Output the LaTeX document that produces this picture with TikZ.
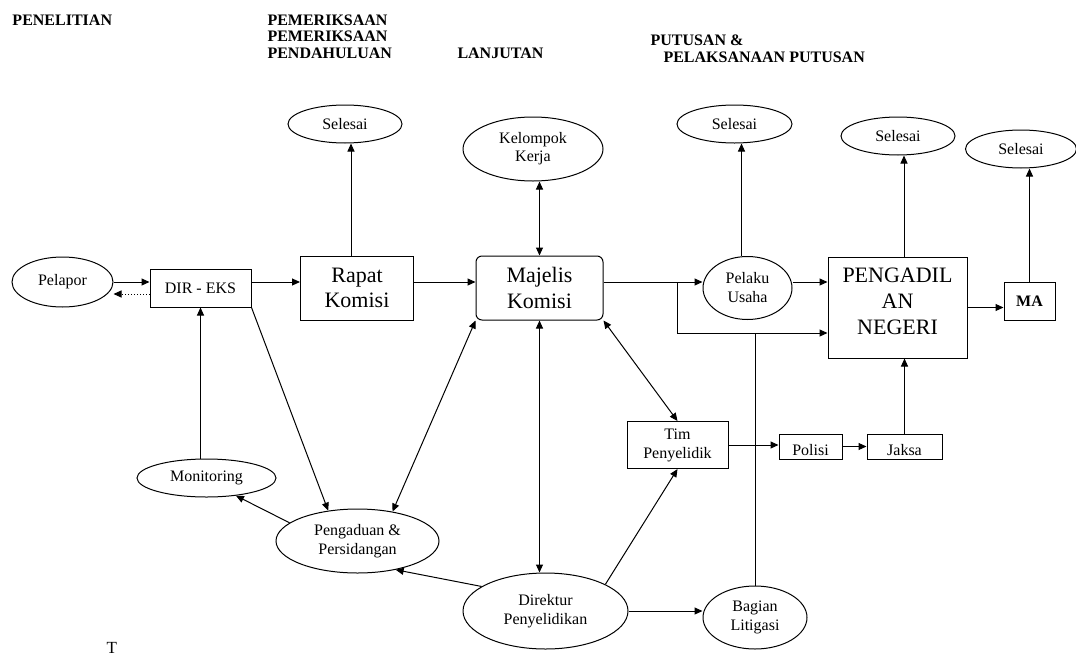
\documentclass[tikz,border=0pt]{standalone}
\usepackage{fontspec}
\setmainfont{Liberation Serif}
\usetikzlibrary{shapes.geometric, arrows.meta}

\begin{document}
\begin{tikzpicture}[x=1pt, y=-1pt, line width=1pt, >={Triangle[length=8pt,width=7pt]},
  judul/.style={font=\fontsize{16}{18}\selectfont\bfseries, anchor=base west, inner sep=0pt},
  oval/.style={draw, ellipse, inner sep=0pt, align=center, font=\fontsize{16}{19}\selectfont},
  kotak/.style={draw, rectangle, inner sep=0pt, align=center, font=\fontsize{16}{19}\selectfont},
  kotakbesar/.style={kotak, font=\fontsize{22}{25.5}\selectfont},
  kotakkecil/.style={kotak, text height=21pt, text depth=4pt}]
  \useasboundingbox (0,0) rectangle (1076,656);
  % Tahapan
  \node[judul] (penelitian) at (12,25) {PENELITIAN};
  \node[judul] (pemeriksaanA) at (267,25) {PEMERIKSAAN};
  \node[judul] (pemeriksaanB) at (267,41.7) {PEMERIKSAAN};
  \node[judul] (pendahuluan) at (267,58.3) {PENDAHULUAN};
  \node[judul] (lanjutan) at (457,58.3) {LANJUTAN};
  \node[judul] (putusan) at (650,45) {PUTUSAN \&};
  \node[judul] (pelaksanaan) at (663,62) {PELAKSANAAN PUTUSAN};
  % Baris tengah
  \node[oval, minimum width=101, minimum height=50] (pelapor) at (62.5,282) {Pelapor};
  \node[kotak, minimum width=101, minimum height=38] (direks) at (200.5,288) {DIR - EKS};
  \node[kotakbesar, minimum width=113, minimum height=64] (rapat) at (357,288) {Rapat\\Komisi};
  \node[kotakbesar, rounded corners=6pt, minimum width=127, minimum height=64] (majelis) at (539.5,288) {Majelis\\Komisi};
  \node[oval, minimum width=89, minimum height=63] (pelaku) at (747.5,288) {Pelaku\\Usaha};
  \node[kotakbesar, font=\fontsize{22}{26}\selectfont, text depth=12pt, minimum width=139, minimum height=101] (pengadilan) at (897.5,307.5) {PENGADIL\\AN\\NEGERI};
  \node[kotak, font=\fontsize{16}{19}\selectfont\bfseries, minimum width=51, minimum height=38] (ma) at (1029.5,301) {MA};
  % Baris atas
  \node[oval, minimum width=114, minimum height=38] (selesaiA) at (345,124) {Selesai};
  \node[oval, minimum width=140, minimum height=64, font=\fontsize{16}{18}\selectfont] (kelompok) at (533,149) {Kelompok\\Kerja};
  \node[oval, minimum width=115, minimum height=38] (selesaiB) at (734.5,124) {Selesai};
  \node[oval, minimum width=114, minimum height=38] (selesaiC) at (898,136) {Selesai};
  \node[oval, minimum width=111, minimum height=38] (selesaiD) at (1021,149) {Selesai};
  % Baris bawah
  \node[kotak, minimum width=101, minimum height=47] (tim) at (677.5,445) {Tim\\Penyelidik};
  \node[kotakkecil, minimum width=63, minimum height=25] (polisi) at (810.5,446.5) {Polisi};
  \node[kotakkecil, minimum width=75, minimum height=25] (jaksa) at (904.5,446.5) {Jaksa};
  \node[oval, minimum width=139, minimum height=38] (monitoring) at (206.5,478) {Monitoring};
  \node[oval, minimum width=163, minimum height=64] (pengaduan) at (357.5,541) {Pengaduan \&\\Persidangan};
  \node[oval, minimum width=165, minimum height=76] (direktur) at (545.5,611) {Direktur\\Penyelidikan};
  \node[oval, minimum width=104, minimum height=63] (bagian) at (755,617.5) {Bagian\\Litigasi};
  \node[anchor=base west, inner sep=0pt, font=\fontsize{17}{20}\selectfont] (huruf) at (106,653) {T};
  \coordinate (cabang) at (677,282);
  \coordinate (belok) at (677,333);
  % Panah
  \draw[->] (pelapor.east) -- (pelapor.east -| direks.west);
  \draw[->, dotted] ([yshift=-6]direks.west) -- ([yshift=-12]pelapor.east);
  \draw[->] ([yshift=6]direks.east) -- ([yshift=6]rapat.west);
  \draw[->] ([xshift=-6]rapat.north) -- ([xshift=-6]rapat.north |- selesaiA.south);
  \draw[->] ([yshift=6]rapat.east) -- ([yshift=6]majelis.west);
  \draw[<->] (majelis.north) -- (majelis.north |- kelompok.south);
  \draw[->] ([yshift=6]majelis.east) -- ([yshift=6]pelaku.west);
  \draw[->] (cabang) |- (belok -| pengadilan.west);
  \draw[->] ([xshift=-6]pelaku.north) -- ([xshift=-6]pelaku.north |- selesaiB.south);
  \draw[->] ([yshift=6]pelaku.east) -- ([yshift=6]pelaku.east -| pengadilan.west);
  \draw[->] ([xshift=6.5]pengadilan.north) -- ([xshift=6.5]pengadilan.north |- selesaiC.south);
  \draw[->] (pengadilan.east) -- (pengadilan.east -| ma.west);
  \draw[->] (ma.north) -- (ma.north |- selesaiD.south);
  \draw (bagian.north) -- (bagian.north |- belok);
  \draw[->] (jaksa.north) -- (jaksa.north |- pengadilan.south);
  \draw[->] (tim.east) -- (tim.east -| polisi.west);
  \draw[->] (polisi.east) -- (jaksa.west);
  \draw[->] (monitoring.north -| direks.south) -- (direks.south);
  \draw[->] (pengaduan.165) -- (monitoring.-31);
  \draw[->] (direks.south east) -- (pengaduan.134);
  \draw[<->] (pengaduan.40) -- (majelis.south west);
  \draw[<->] (majelis.south) -- (majelis.south |- direktur.north);
  \draw[<->] (majelis.south east) -- (tim.north);
  \draw[->] (direktur.24) -- (tim.south);
  \draw[->] (direktur.159) -- (pengaduan.-37);
  \draw[->] (direktur.east) -- (direktur.east -| bagian.west);
\end{tikzpicture}
\end{document}
